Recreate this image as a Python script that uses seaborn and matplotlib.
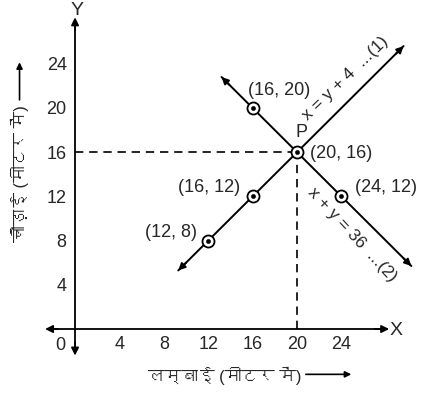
import numpy as np
import pandas as pd
import seaborn as sns
import matplotlib
matplotlib.use("Agg")
import matplotlib.pyplot as plt
from matplotlib import font_manager, ft2font

# points marked on the graph
point_x = [12, 16, 16, 20, 24]
point_y = [8, 12, 20, 16, 12]
point_labels = ["(12, 8)", "(16, 12)", "(16, 20)", "(20, 16)", "(24, 12)"]

# the two lines (end points of the drawn segments)
line1_x = [9.3, 29.6]   # x = y + 4
line1_y = [5.3, 25.6]
line2_x = [13.2, 30.3]  # x + y = 36
line2_y = [22.8, 5.7]

ticks = [4, 8, 12, 16, 20, 24]
x_label = "लम्बाई (मीटर में)"
y_label = "चौड़ाई (मीटर में)"
eq1 = "x = y + 4  ...(1)"
eq2 = "x + y = 36  ...(2)"


def find_devanagari_font():
    for f in font_manager.fontManager.ttflist:
        try:
            cmap = ft2font.FT2Font(f.fname).get_charmap()
        except Exception:
            continue
        if 0x0932 in cmap and 0x092E in cmap:
            return f.name
    return None


sns.set_style("white")
deva = find_devanagari_font()
families = ["Liberation Sans"] + ([deva] if deva else []) + ["DejaVu Sans"]
plt.rcParams["font.family"] = families

fig = plt.figure(figsize=(4.36, 3.97), dpi=100)
ax = fig.add_axes([0, 0, 1, 1])
ax.set_xlim(-6.76, 32.52)
ax.set_ylim(-6.15, 29.77)

# axes through the origin
for side in ["top", "right"]:
    ax.spines[side].set_visible(False)
ax.spines["left"].set_position(("data", 0))
ax.spines["bottom"].set_position(("data", 0))
ax.spines["left"].set_bounds(-2.0, 27.5)
ax.spines["bottom"].set_bounds(-2.2, 27.6)
for side in ["left", "bottom"]:
    ax.spines[side].set_linewidth(1.3)
    ax.spines[side].set_color("black")

ax.set_xticks(ticks)
ax.set_yticks(ticks)
ax.tick_params(axis="x", direction="in", length=4, width=1, pad=5, labelsize=13)
ax.tick_params(axis="y", direction="out", length=4, width=1, pad=2, labelsize=13)

arrow = dict(arrowstyle="-|>", color="black", lw=1.3, mutation_scale=11, shrinkA=0, shrinkB=0)
ax.annotate("", xy=(28.3, 0), xytext=(27.0, 0), arrowprops=arrow)
ax.annotate("", xy=(-2.7, 0), xytext=(-1.5, 0), arrowprops=arrow)
ax.annotate("", xy=(0, 28.2), xytext=(0, 27.0), arrowprops=arrow)
ax.annotate("", xy=(0, -2.4), xytext=(0, -1.2), arrowprops=arrow)

ax.text(0.2, 28.8, "Y", fontsize=14, ha="center", va="center")
ax.text(28.9, -0.1, "X", fontsize=14, ha="center", va="center")
ax.text(-1.35, -1.45, "0", fontsize=13, ha="center", va="center")

# dashed guides to P
ax.plot([0, 20], [16, 16], color="black", lw=1.2, ls=(0, (5, 3.5)))
ax.plot([20, 20], [0, 16], color="black", lw=1.2, ls=(0, (5, 3.5)))

# the two lines with arrowheads at both ends
lines = pd.DataFrame({
    "x": line1_x + line2_x,
    "y": line1_y + line2_y,
    "eq": ["1", "1", "2", "2"],
})
sns.lineplot(data=lines, x="x", y="y", units="eq", estimator=None,
             color="black", lw=1.4, legend=False, ax=ax, sort=False)
head = dict(arrowstyle="-|>", color="black", lw=1.4, mutation_scale=10, shrinkA=0, shrinkB=0)
for xs, ys in [(line1_x, line1_y), (line2_x, line2_y)]:
    for a, b in [(0, 1), (1, 0)]:
        dx = xs[a] - xs[b]
        dy = ys[a] - ys[b]
        n = np.hypot(dx, dy)
        ax.annotate("", xy=(xs[a], ys[a]),
                    xytext=(xs[a] - dx / n * 1.0, ys[a] - dy / n * 1.0),
                    arrowprops=head)

# circled points
pts = pd.DataFrame({"x": point_x, "y": point_y})
sns.scatterplot(data=pts, x="x", y="y", s=75, facecolor="white",
                edgecolor="black", linewidth=1.3, zorder=5, ax=ax)
sns.scatterplot(data=pts, x="x", y="y", s=10, color="black",
                edgecolor="black", zorder=6, ax=ax)

label_pos = {
    "(12, 8)": (11.0, 8.7, "right"),
    "(16, 12)": (14.9, 12.8, "right"),
    "(16, 20)": (18.4, 21.6, "center"),
    "(20, 16)": (21.2, 15.9, "left"),
    "(24, 12)": (25.2, 12.8, "left"),
}
for lab in point_labels:
    tx, ty, ha = label_pos[lab]
    ax.text(tx, ty, lab, fontsize=13, ha=ha, va="center")
ax.text(20.4, 17.8, "P", fontsize=13, ha="center", va="center")

ax.text(24.4, 22.7, eq1, fontsize=12.5, rotation=44, ha="center", va="center",
        rotation_mode="anchor")
ax.text(25.0, 8.5, eq2, fontsize=12.5, rotation=-47, ha="center", va="center",
        rotation_mode="anchor")

ax.set_xlabel("")
ax.set_ylabel("")
# axis titles, each followed by a long arrow
xt = ax.text(6.6, -4.2, x_label, fontsize=12, ha="left", va="center")
yt = ax.text(-5.0, 7.9, y_label, fontsize=12, ha="center", va="bottom", rotation=90)
fig.canvas.draw()
inv = ax.transData.inverted()
xb = xt.get_window_extent()
yb = yt.get_window_extent()
x_end = inv.transform((xb.x1 + 4, 0))[0]
y_end = inv.transform((0, yb.y1 + 5))[1]
long_head = dict(arrowstyle="-|>", color="black", lw=1.2, mutation_scale=9,
                 shrinkA=0, shrinkB=0)
ax.annotate("", xy=(x_end + 4.1, -4.1), xytext=(x_end, -4.1), arrowprops=long_head)
ax.annotate("", xy=(-5.0, y_end + 3.4), xytext=(-5.0, y_end), arrowprops=long_head)

fig.savefig("out.png", dpi=100)
